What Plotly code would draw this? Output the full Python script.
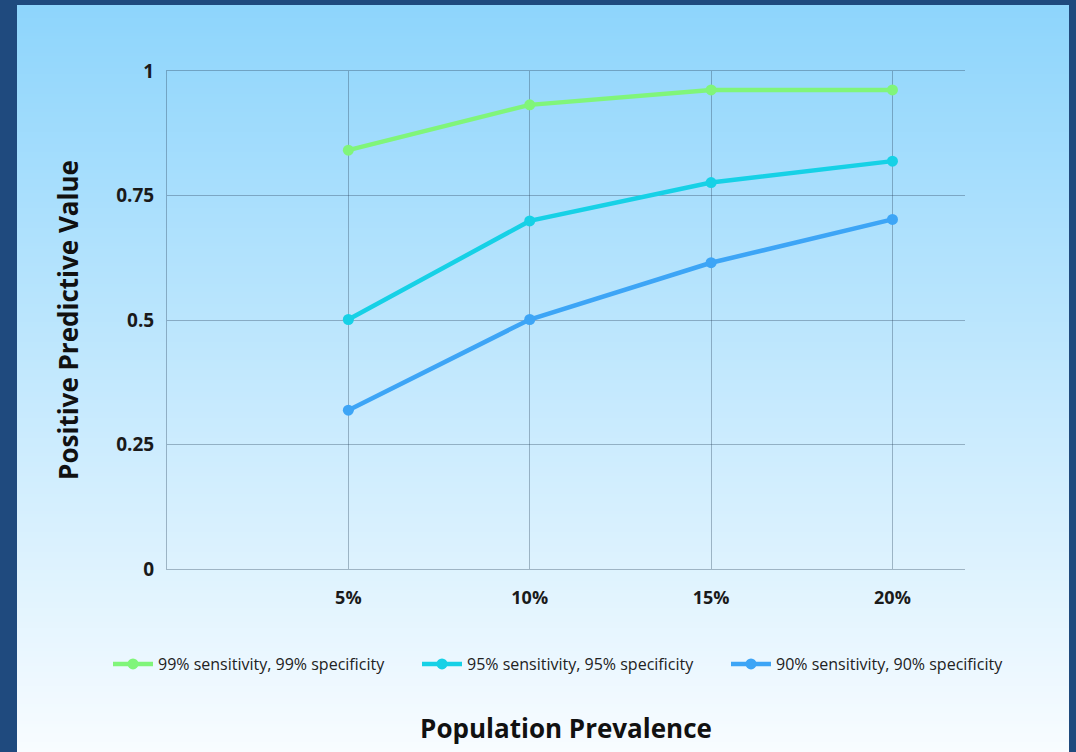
import zlib, struct, base64
import plotly.graph_objects as go

# ---- data ----
prevalence = [5, 10, 15, 20]  # percent
prevalence_labels = ["5%", "10%", "15%", "20%"]
series_names = [
    "99% sensitivity, 99% specificity",
    "95% sensitivity, 95% specificity",
    "90% sensitivity, 90% specificity",
]
ppv_99 = [0.841, 0.932, 0.962, 0.962]
ppv_95 = [0.501, 0.699, 0.776, 0.819]
ppv_90 = [0.319, 0.501, 0.615, 0.702]
y_ticks = [0, 0.25, 0.5, 0.75, 1]
y_ticktext = ["0", "0.25", "0.5", "0.75", "1"]

colors = ["#80f57a", "#16d1e6", "#3da5f6"]

W, H = 1076, 752
ML, MR, MT, MB = 167, 111, 71, 183
pw, ph = W - ML - MR, H - MT - MB


def px2x(px):
    return (px - ML) / pw


def py2y(py):
    return (H - MB - py) / ph


def png_gradient(h, top, bot):
    raw = b""
    for i in range(h):
        f = i / (h - 1)
        c = bytes(round(a + (b - a) * f) for a, b in zip(top, bot))
        raw += b"\x00" + c + c
    def chunk(t, d):
        out = struct.pack(">I", len(d)) + t + d
        return out + struct.pack(">I", zlib.crc32(t + d) & 0xffffffff)
    ihdr = struct.pack(">IIBBBBB", 2, h, 8, 2, 0, 0, 0)
    png = (b"\x89PNG\r\n\x1a\n" + chunk(b"IHDR", ihdr)
           + chunk(b"IDAT", zlib.compress(raw)) + chunk(b"IEND", b""))
    return "data:image/png;base64," + base64.b64encode(png).decode()


fig = go.Figure()
for name, vals, col in zip(series_names, [ppv_99, ppv_95, ppv_90], colors):
    fig.add_trace(go.Scatter(
        x=prevalence, y=vals, name=name, mode="lines+markers",
        line=dict(color=col, width=4.5),
        marker=dict(color=col, size=11),
    ))

fig.add_layout_image(dict(
    source=png_gradient(256, (142, 213, 252), (248, 252, 255)),
    xref="paper", yref="paper",
    x=px2x(17), y=py2y(5), sizex=(1069 - 17) / pw, sizey=(H - 5) / ph,
    xanchor="left", yanchor="top", sizing="stretch", layer="below",
))

grid = "rgba(45,70,95,0.36)"
fig.update_layout(
    width=W, height=H,
    margin=dict(l=ML, r=MR, t=MT, b=MB),
    paper_bgcolor="#1f4a7e",
    plot_bgcolor="rgba(0,0,0,0)",
    showlegend=True,
    legend=dict(
        orientation="h", x=px2x(108), xanchor="left", y=py2y(664), yanchor="middle",
        font=dict(family="Open Sans", size=16, color="#222"),
        bgcolor="rgba(0,0,0,0)", entrywidth=254, itemwidth=40,
        traceorder="normal",
    ),
    xaxis=dict(
        range=[0, 22], tickvals=prevalence, ticktext=prevalence_labels,
        showgrid=True, gridcolor=grid, gridwidth=1, zeroline=False,
        showline=True, mirror=True, linecolor=grid, linewidth=1,
        ticks="outside", ticklen=12, tickcolor="rgba(0,0,0,0)",
        tickfont=dict(family="Open Sans", size=18, color="#1a1a1a", weight="bold"),
        title=dict(text="Population Prevalence", standoff=112,
                   font=dict(family="Open Sans", size=26, color="#111", weight="bold")),
        fixedrange=True,
    ),
    yaxis=dict(
        range=[0, 1], tickvals=y_ticks, ticktext=y_ticktext,
        showgrid=True, gridcolor=grid, gridwidth=1, zeroline=False,
        showline=True, linecolor=grid, linewidth=1,
        ticks="outside", ticklen=8, tickcolor="rgba(0,0,0,0)",
        tickfont=dict(family="Open Sans", size=19, color="#1a1a1a", weight="bold"),
        title=dict(text="Positive Predictive Value", standoff=30,
                   font=dict(family="Open Sans", size=26, color="#111", weight="bold")),
        fixedrange=True,
    ),
)
fig.write_html("out.html", config={"displayModeBar": False},
               post_script="document.body.style.margin='0';")
